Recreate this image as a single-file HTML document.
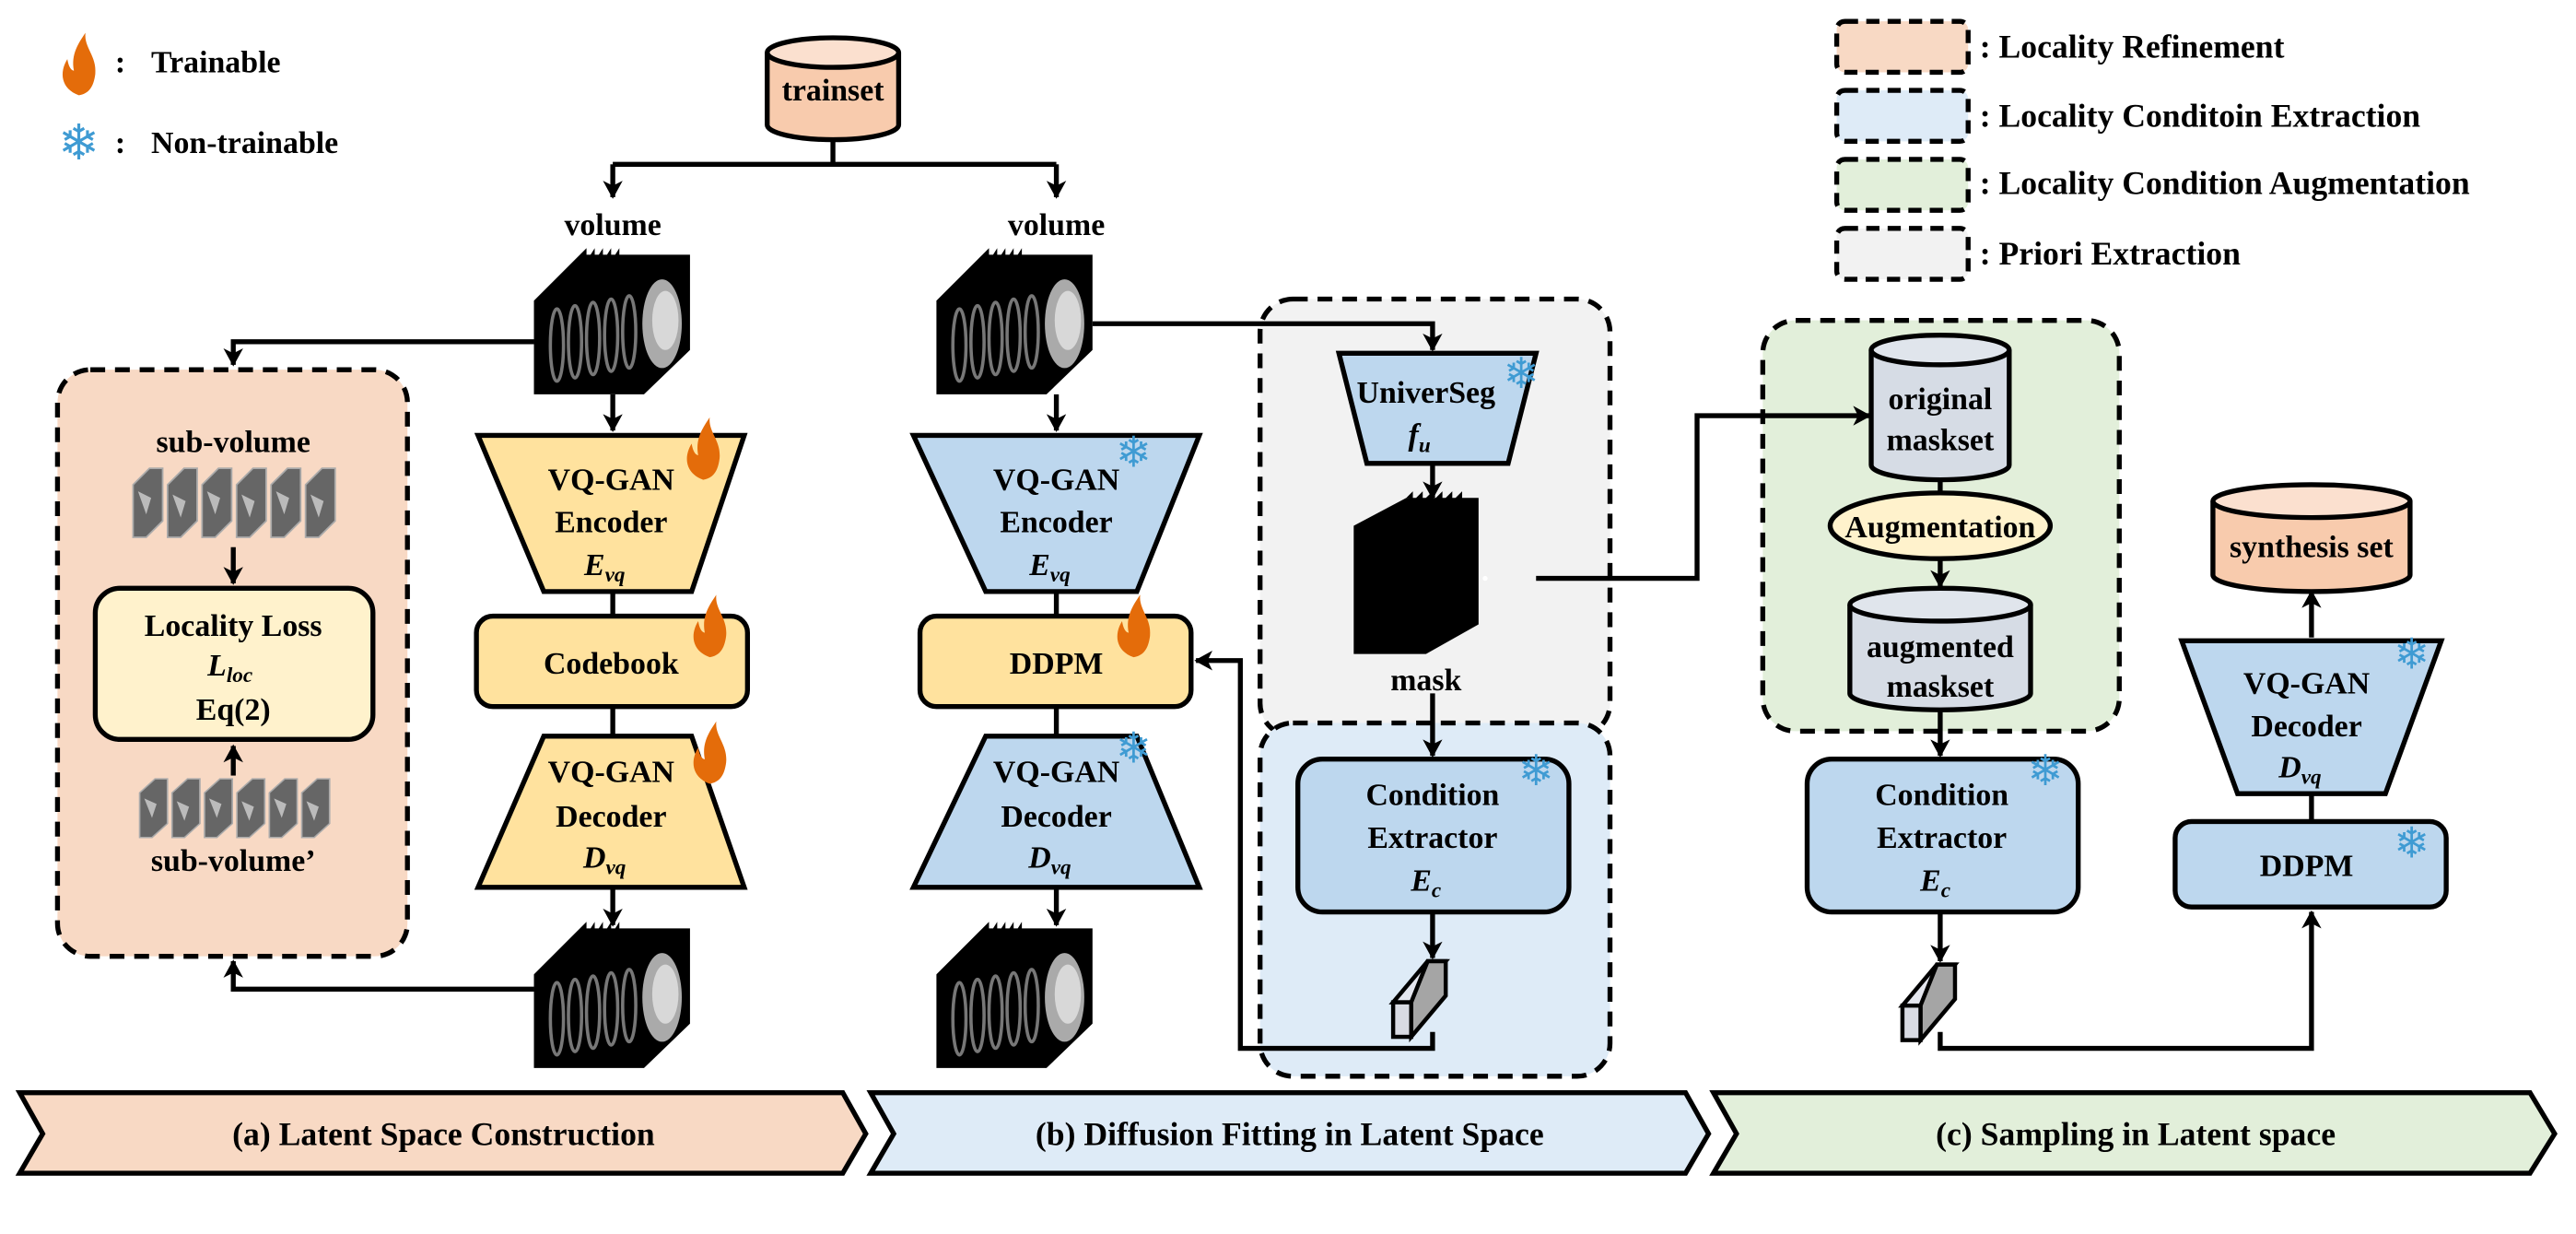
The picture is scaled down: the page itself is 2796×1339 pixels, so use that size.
<!DOCTYPE html>
<html><head><meta charset="utf-8"><style>
html,body{margin:0;padding:0;background:#fff}
svg{display:block}
</style></head><body>
<svg width="2796" height="1339" viewBox="0 0 1568 751" preserveAspectRatio="none" xmlns="http://www.w3.org/2000/svg" font-family="'Liberation Serif', 'Times New Roman', serif" font-weight="bold">
<defs>
<marker id="ah" markerUnits="userSpaceOnUse" markerWidth="12" markerHeight="12" refX="10" refY="6" orient="auto"><path d="M0,0 L11,6 L0,12 L3,6 Z" fill="#000"/></marker>
<g id="vol">
<polygon points="0,28 28,0 95,0 95,58 67,85 0,85" fill="#000"/>
<path d="M28,0 l4,-4 l0,8 l5,-8 l0,8 l5,-8 l0,8 l5,-8 l0,8 l5,-8 l0,8z" fill="#000"/>
<g fill="none" stroke="#777" stroke-width="2">
<ellipse cx="14" cy="55" rx="4" ry="22"/><ellipse cx="25" cy="53" rx="4" ry="22"/><ellipse cx="36" cy="51" rx="4" ry="22"/><ellipse cx="47" cy="49" rx="4" ry="22"/><ellipse cx="58" cy="47" rx="4" ry="22"/>
</g>
<ellipse cx="78" cy="42" rx="12" ry="27" fill="#aaa"/>
<ellipse cx="80" cy="40" rx="8" ry="18" fill="#d8d8d8"/>
</g>
<g id="sub">
<g fill="#666" stroke="#aaa" stroke-width="1">
<polygon points="0,10 10,0 18,0 18,32 8,42 0,42"/>
<polygon points="21,10 31,0 39,0 39,32 29,42 21,42"/>
<polygon points="42,10 52,0 60,0 60,32 50,42 42,42"/>
<polygon points="63,10 73,0 81,0 81,32 71,42 63,42"/>
<polygon points="84,10 94,0 102,0 102,32 92,42 84,42"/>
<polygon points="105,10 115,0 123,0 123,32 113,42 105,42"/>
</g>
<g fill="#bbb"><path d="M3,14 l8,4 l-3,10 z"/><path d="M24,16 l8,4 l-3,10 z"/><path d="M45,14 l8,4 l-3,10 z"/><path d="M66,16 l8,4 l-3,10 z"/><path d="M87,14 l8,4 l-3,10 z"/><path d="M108,16 l8,4 l-3,10 z"/></g>
</g>
<g id="flame"><path d="M0,20 C-11,16 -12,6 -7,-2 C-6,4 -4,5 -3,5 C-5,-5 0,-12 4,-18 C3,-9 11,-4 10,7 C9,15 6,19 0,20 Z" fill="#e46c0a"/></g>
</defs>

<!-- legend left -->
<use href="#flame" x="48" y="38"/>
<text x="70" y="44" font-size="19">:</text><text x="92" y="44" font-size="19">Trainable</text>
<text x="48" y="97" font-size="30" fill="#3f9bd3" font-family="DejaVu Sans, sans-serif" text-anchor="middle">❄</text>
<text x="70" y="93" font-size="19">:</text><text x="92" y="93" font-size="19">Non-trainable</text>

<!-- legend right -->
<g stroke="#000" stroke-width="3" stroke-dasharray="8,5">
<rect x="1118" y="13" width="80" height="31" rx="5" fill="#f8d9c4"/>
<rect x="1118" y="55" width="80" height="31" rx="5" fill="#deebf7"/>
<rect x="1118" y="97" width="80" height="31" rx="5" fill="#e2efda"/>
<rect x="1118" y="139" width="80" height="31" rx="5" fill="#f2f2f2"/>
</g>
<g font-size="20">
<text x="1205" y="35">:  Locality Refinement</text>
<text x="1205" y="77">:  Locality Conditoin Extraction</text>
<text x="1205" y="118">:  Locality Condition Augmentation</text>
<text x="1205" y="161">:  Priori Extraction</text>
</g>

<!-- background boxes -->
<rect x="35" y="225" width="213" height="357" rx="20" fill="#f8d9c4" stroke="#000" stroke-width="3" stroke-dasharray="9,6"/>
<rect x="767" y="182" width="213" height="266" rx="20" fill="#f2f2f2" stroke="#000" stroke-width="3" stroke-dasharray="9,6"/>
<rect x="767" y="440" width="213" height="215" rx="20" fill="#deebf7" stroke="#000" stroke-width="3" stroke-dasharray="9,6"/>
<rect x="1073" y="195" width="217" height="250" rx="20" fill="#e2efda" stroke="#000" stroke-width="3" stroke-dasharray="9,6"/>

<!-- trainset -->
<path d="M467,32 L467,76 A40,9 0 0 0 547,76 L547,32" fill="#f8cbad" stroke="#000" stroke-width="3"/>
<ellipse cx="507" cy="32" rx="40" ry="9" fill="#fbe0cf" stroke="#000" stroke-width="3"/>
<text x="507" y="61" font-size="19" text-anchor="middle">trainset</text>
<text x="373" y="143" font-size="19" text-anchor="middle">volume</text>
<text x="643" y="143" font-size="19" text-anchor="middle">volume</text>
<use href="#vol" x="325" y="155"/>
<use href="#vol" x="570" y="155"/>

<!-- connectors -->
<g stroke="#000" stroke-width="3" fill="none">
<path d="M507,85 V100 M373,100 H643"/>
<path d="M373,100 V120" marker-end="url(#ah)"/>
<path d="M643,100 V120" marker-end="url(#ah)"/>
<path d="M325,208 H142 V222" marker-end="url(#ah)"/>
<path d="M325,602 H142 V585" marker-end="url(#ah)"/>
<path d="M142,333 V355" marker-end="url(#ah)"/>
<path d="M142,472 V454" marker-end="url(#ah)"/>
<path d="M373,240 V262" marker-end="url(#ah)"/>
<path d="M373,360 V375 M373,430 V448"/>
<path d="M373,540 V563" marker-end="url(#ah)"/>
<path d="M643,240 V262" marker-end="url(#ah)"/>
<path d="M643,360 V375 M643,430 V448"/>
<path d="M643,540 V563" marker-end="url(#ah)"/>
<path d="M665,197 H872 V213" marker-end="url(#ah)"/>
<path d="M872,282 V303" marker-end="url(#ah)"/>
<path d="M872,422 V460" marker-end="url(#ah)"/>
<path d="M872,555 V583" marker-end="url(#ah)"/>
<path d="M872,628 V638 H755 V402 H728" marker-end="url(#ah)"/>
<path d="M935,352 H1033 V253 H1138" marker-end="url(#ah)"/>
<path d="M1181,292 V300"/>
<path d="M1181,340 V357" marker-end="url(#ah)"/>
<path d="M1181,430 V460" marker-end="url(#ah)"/>
<path d="M1181,552 V585" marker-end="url(#ah)"/>
<path d="M1181,628 V638 H1407 V555" marker-end="url(#ah)"/>
<path d="M1407,500 V483"/>
<path d="M1407,388 V360" marker-end="url(#ah)"/>
</g>

<!-- pink content -->
<text x="142" y="275" font-size="19" text-anchor="middle">sub-volume</text>
<use href="#sub" x="81" y="285"/>
<rect x="58" y="358" width="169" height="92" rx="15" fill="#fff2cc" stroke="#000" stroke-width="3"/>
<text x="142" y="387" font-size="19" text-anchor="middle">Locality Loss</text>
<text x="140" y="411" font-size="19" text-anchor="middle" font-style="italic">L<tspan font-size="13" dy="4">loc</tspan></text>
<text x="142" y="438" font-size="19" text-anchor="middle">Eq(2)</text>
<use href="#sub" transform="translate(85,474) scale(0.94,0.85)"/>
<text x="142" y="530" font-size="19" text-anchor="middle">sub-volume’</text>

<!-- column a -->
<polygon points="291,265 453,265 421,360 331,360" fill="#ffe29e" stroke="#000" stroke-width="3"/>
<text x="372" y="298" font-size="19" text-anchor="middle">VQ-GAN</text>
<text x="372" y="324" font-size="19" text-anchor="middle">Encoder</text>
<text x="368" y="350" font-size="19" text-anchor="middle" font-style="italic">E<tspan font-size="13" dy="4">vq</tspan></text>
<use href="#flame" x="428" y="272"/>
<rect x="290" y="375" width="165" height="55" rx="10" fill="#ffe29e" stroke="#000" stroke-width="3"/>
<text x="372" y="410" font-size="19" text-anchor="middle">Codebook</text>
<use href="#flame" x="432" y="380"/>
<polygon points="331,448 421,448 453,540 291,540" fill="#ffe29e" stroke="#000" stroke-width="3"/>
<text x="372" y="476" font-size="19" text-anchor="middle">VQ-GAN</text>
<text x="372" y="503" font-size="19" text-anchor="middle">Decoder</text>
<text x="368" y="528" font-size="19" text-anchor="middle" font-style="italic">D<tspan font-size="13" dy="4">vq</tspan></text>
<use href="#flame" x="432" y="457"/>
<use href="#vol" x="325" y="565"/>
<text x="373" y="684" font-size="19" text-anchor="middle">volume’</text>

<!-- column b -->
<polygon points="556,265 730,265 692,360 600,360" fill="#bdd7ee" stroke="#000" stroke-width="3"/>
<text x="643" y="298" font-size="19" text-anchor="middle">VQ-GAN</text>
<text x="643" y="324" font-size="19" text-anchor="middle">Encoder</text>
<text x="639" y="350" font-size="19" text-anchor="middle" font-style="italic">E<tspan font-size="13" dy="4">vq</tspan></text>
<text x="690" y="284" font-size="26" text-anchor="middle" fill="#3f9bd3" font-family="DejaVu Sans, sans-serif">❄</text>
<rect x="560" y="375" width="165" height="55" rx="10" fill="#ffe29e" stroke="#000" stroke-width="3"/>
<text x="643" y="410" font-size="19" text-anchor="middle">DDPM</text>
<use href="#flame" x="690" y="380"/>
<polygon points="600,448 692,448 730,540 556,540" fill="#bdd7ee" stroke="#000" stroke-width="3"/>
<text x="643" y="476" font-size="19" text-anchor="middle">VQ-GAN</text>
<text x="643" y="503" font-size="19" text-anchor="middle">Decoder</text>
<text x="639" y="528" font-size="19" text-anchor="middle" font-style="italic">D<tspan font-size="13" dy="4">vq</tspan></text>
<text x="690" y="464" font-size="26" text-anchor="middle" fill="#3f9bd3" font-family="DejaVu Sans, sans-serif">❄</text>
<use href="#vol" x="570" y="565"/>
<text x="643" y="684" font-size="19" text-anchor="middle">volume’</text>

<!-- priori -->
<polygon points="815,215 935,215 918,282 832,282" fill="#bdd7ee" stroke="#000" stroke-width="3"/>
<text x="868" y="245" font-size="19" text-anchor="middle">UniverSeg</text>
<text x="864" y="271" font-size="19" text-anchor="middle" font-style="italic">f<tspan font-size="13" dy="4">u</tspan></text>
<text x="926" y="236" font-size="26" text-anchor="middle" fill="#3f9bd3" font-family="DejaVu Sans, sans-serif">❄</text>
<polygon points="824,320 856,303 900,303 900,380 868,398 824,398" fill="#000"/>
<path d="M856,303 l4,-4 v6 l6,-6 v6 l6,-6 v6 l6,-6 v6 l6,-6 v6 l6,-6 v6z" fill="#000"/>
<circle cx="904" cy="352" r="1.5" fill="#fff"/>
<text x="868" y="420" font-size="19" text-anchor="middle">mask</text>
<rect x="790" y="462" width="165" height="93" rx="15" fill="#bdd7ee" stroke="#000" stroke-width="3"/>
<text x="872" y="490" font-size="19" text-anchor="middle">Condition</text>
<text x="872" y="516" font-size="19" text-anchor="middle">Extractor</text>
<text x="868" y="542" font-size="19" text-anchor="middle" font-style="italic">E<tspan font-size="13" dy="4">c</tspan></text>
<text x="935" y="478" font-size="26" text-anchor="middle" fill="#3f9bd3" font-family="DejaVu Sans, sans-serif">❄</text>
<g stroke="#000" stroke-width="2.5">
<polygon points="848,610 869,585 880,585 859,610" fill="#e4e6ee"/>
<polygon points="869,585 880,585 880,606 859,631 859,610" fill="#a5a5a5"/>
<rect x="848" y="610" width="11" height="21" fill="#d9dbe3"/>
</g>

<!-- green -->
<path d="M1139,213 L1139,283 A42,9 0 0 0 1223,283 L1223,213" fill="#d6dce5" stroke="#000" stroke-width="3"/>
<ellipse cx="1181" cy="213" rx="42" ry="9" fill="#e0e5ec" stroke="#000" stroke-width="3"/>
<text x="1181" y="249" font-size="19" text-anchor="middle">original</text>
<text x="1181" y="274" font-size="19" text-anchor="middle">maskset</text>
<ellipse cx="1181" cy="320" rx="67" ry="20" fill="#fff2cc" stroke="#000" stroke-width="3"/>
<text x="1181" y="327" font-size="19" text-anchor="middle">Augmentation</text>
<path d="M1126,368 L1126,422 A55,10 0 0 0 1236,422 L1236,368" fill="#d6dce5" stroke="#000" stroke-width="3"/>
<ellipse cx="1181" cy="368" rx="55" ry="10" fill="#e0e5ec" stroke="#000" stroke-width="3"/>
<text x="1181" y="400" font-size="19" text-anchor="middle">augmented</text>
<text x="1181" y="424" font-size="19" text-anchor="middle">maskset</text>
<rect x="1100" y="462" width="165" height="93" rx="15" fill="#bdd7ee" stroke="#000" stroke-width="3"/>
<text x="1182" y="490" font-size="19" text-anchor="middle">Condition</text>
<text x="1182" y="516" font-size="19" text-anchor="middle">Extractor</text>
<text x="1178" y="542" font-size="19" text-anchor="middle" font-style="italic">E<tspan font-size="13" dy="4">c</tspan></text>
<text x="1245" y="478" font-size="26" text-anchor="middle" fill="#3f9bd3" font-family="DejaVu Sans, sans-serif">❄</text>
<g stroke="#000" stroke-width="2.5">
<polygon points="1158,612 1179,587 1190,587 1169,612" fill="#e4e6ee"/>
<polygon points="1179,587 1190,587 1190,608 1169,633 1169,612" fill="#a5a5a5"/>
<rect x="1158" y="612" width="11" height="21" fill="#d9dbe3"/>
</g>

<!-- sampling right -->
<path d="M1347,305 L1347,350 A60,10 0 0 0 1467,350 L1467,305" fill="#f8cbad" stroke="#000" stroke-width="3"/>
<ellipse cx="1407" cy="305" rx="60" ry="10" fill="#fbe0cf" stroke="#000" stroke-width="3"/>
<text x="1407" y="339" font-size="19" text-anchor="middle">synthesis set</text>
<polygon points="1328,390 1486,390 1452,483 1362,483" fill="#bdd7ee" stroke="#000" stroke-width="3"/>
<text x="1404" y="422" font-size="19" text-anchor="middle">VQ-GAN</text>
<text x="1404" y="448" font-size="19" text-anchor="middle">Decoder</text>
<text x="1400" y="473" font-size="19" text-anchor="middle" font-style="italic">D<tspan font-size="13" dy="4">vq</tspan></text>
<text x="1468" y="407" font-size="26" text-anchor="middle" fill="#3f9bd3" font-family="DejaVu Sans, sans-serif">❄</text>
<rect x="1324" y="500" width="165" height="52" rx="10" fill="#bdd7ee" stroke="#000" stroke-width="3"/>
<text x="1404" y="533" font-size="19" text-anchor="middle">DDPM</text>
<text x="1468" y="522" font-size="26" text-anchor="middle" fill="#3f9bd3" font-family="DejaVu Sans, sans-serif">❄</text>

<!-- bottom banners -->
<g stroke="#000" stroke-width="3">
<polygon points="12,665 513,665 527,690 513,714 12,714 26,690" fill="#f8d9c4"/>
<polygon points="530,665 1026,665 1040,690 1026,714 530,714 544,690" fill="#deebf7"/>
<polygon points="1043,665 1540,665 1555,690 1540,714 1043,714 1057,690" fill="#e2efda"/>
</g>
<text x="270" y="697" font-size="20" text-anchor="middle">(a) Latent Space Construction</text>
<text x="785" y="697" font-size="20" text-anchor="middle">(b) Diffusion Fitting in Latent Space</text>
<text x="1300" y="697" font-size="20" text-anchor="middle">(c) Sampling in Latent space</text>
</svg>
</body></html>
